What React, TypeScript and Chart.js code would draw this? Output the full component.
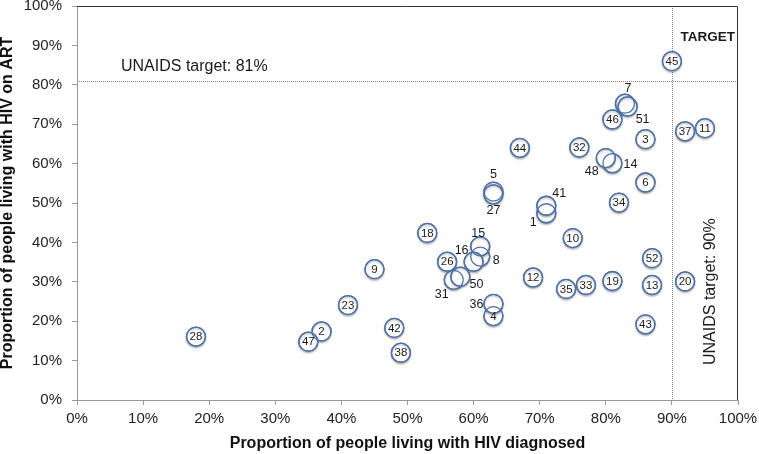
import React, { useEffect, useRef } from 'react';
import { Chart, registerables } from 'chart.js';

Chart.register(...registerables);

// ---- Data ----
const countryIds = [1, 2, 3, 4, 5, 6, 7, 8, 9, 10, 11, 12, 13, 14, 15, 16, 18, 19, 20, 23, 26, 27, 28, 31, 32, 33, 34, 35, 36, 37, 38, 41, 42, 43, 44, 45, 46, 47, 48, 50, 51, 52];
const diagnosedPct = [71, 37, 86, 63, 63, 86, 82.9, 61, 45, 75, 95, 69, 87, 81, 61, 60, 53, 81, 92, 41, 56, 63, 18, 57, 76, 77, 82, 74, 63, 92, 49, 71, 48, 86, 67, 90, 81, 35, 80, 58, 83.3, 87];
const onArtPct = [47.4, 17.4, 66.2, 21.3, 52.9, 55.2, 75.2, 36.4, 33.2, 41.1, 69, 31.1, 29.2, 60.1, 39, 35.1, 42.4, 30.2, 30.1, 24.1, 35.1, 52.2, 16.1, 30.5, 64.1, 29.2, 50.1, 28.2, 24.4, 68.2, 12, 49.3, 18.3, 19.2, 64, 86, 71.2, 14.8, 61.4, 31.3, 74.5, 36];
const axisTicks = [0, 10, 20, 30, 40, 50, 60, 70, 80, 90, 100];
const TARGET_ON_ART = 81;
const TARGET_DIAGNOSED = 90;

// label placement (style): pixel offsets for labels drawn outside crowded circles
const labelOffsets: Record<number, [number, number]> = {
  7: [3, -15], 51: [15, 13], 48: [-14, 13], 14: [18, 1],
  5: [0, -17], 27: [0, 16], 41: [13, -12], 1: [-13, 9],
  15: [-2, -13], 16: [-12, -11], 8: [16, 4], 31: [-12, 15],
  50: [16, 8], 36: [-17, 1],
};

const FONT = '"Liberation Sans", Arial, Helvetica, sans-serif';
const RADIUS = 9.5;
const CIRCLE_COLOR = '#4f72a6';

const overlayPlugin = {
  id: 'overlay',
  beforeDatasetsDraw(chart: any) {
    const { ctx, chartArea: a, scales } = chart;
    const x = scales.x, y = scales.y;
    ctx.save();
    ctx.strokeStyle = '#808080';
    ctx.lineWidth = 1;
    ctx.setLineDash([1, 1]);
    const yy = Math.round(y.getPixelForValue(TARGET_ON_ART)) + 0.5;
    ctx.beginPath(); ctx.moveTo(a.left, yy); ctx.lineTo(a.right, yy); ctx.stroke();
    const xx = Math.round(x.getPixelForValue(TARGET_DIAGNOSED)) + 0.5;
    ctx.beginPath(); ctx.moveTo(xx, a.top); ctx.lineTo(xx, a.bottom); ctx.stroke();
    ctx.setLineDash([]);
    ctx.strokeStyle = '#333';
    ctx.beginPath();
    ctx.moveTo(a.left, a.top + 0.5);
    ctx.lineTo(a.right - 0.5, a.top + 0.5);
    ctx.lineTo(a.right - 0.5, a.bottom);
    ctx.stroke();

    ctx.fillStyle = '#1a1a1a';
    ctx.font = '16px ' + FONT;
    ctx.textAlign = 'left';
    ctx.textBaseline = 'middle';
    ctx.fillText('UNAIDS target: ' + TARGET_ON_ART + '%', x.getPixelForValue(0) + 44, yy - 15);

    ctx.font = 'bold 13.5px ' + FONT;
    ctx.textAlign = 'right';
    ctx.fillText('TARGET', a.right - 3, a.top + 31);

    ctx.save();
    ctx.translate(xx + 38, y.getPixelForValue(27.5));
    ctx.rotate(-Math.PI / 2);
    ctx.font = '16px ' + FONT;
    ctx.textAlign = 'center';
    ctx.fillText('UNAIDS target: ' + TARGET_DIAGNOSED + '%', 0, 0);
    ctx.restore();
    ctx.restore();
  },
  beforeDatasetDraw(chart: any) {
    const ctx = chart.ctx;
    ctx.save();
    ctx.shadowColor = 'rgba(0,0,0,0.28)';
    ctx.shadowBlur = 2;
    ctx.shadowOffsetX = 0;
    ctx.shadowOffsetY = 1.5;
  },
  afterDatasetDraw(chart: any) {
    chart.ctx.restore();
  },
  afterDatasetsDraw(chart: any) {
    const { ctx } = chart;
    const meta = chart.getDatasetMeta(0);
    ctx.save();
    // re-stroke outlines so overlapping circles all show
    ctx.strokeStyle = CIRCLE_COLOR;
    ctx.lineWidth = 1.3;
    meta.data.forEach((pt: any) => {
      ctx.beginPath();
      ctx.arc(pt.x, pt.y, RADIUS, 0, Math.PI * 2);
      ctx.stroke();
    });
    ctx.fillStyle = '#1a1a1a';
    ctx.textAlign = 'center';
    ctx.textBaseline = 'middle';
    meta.data.forEach((pt: any, i: number) => {
      const id = countryIds[i];
      const off = labelOffsets[id];
      if (off) {
        ctx.font = '12.5px ' + FONT;
        ctx.fillText(String(id), pt.x + off[0], pt.y + off[1]);
      } else {
        ctx.font = '11.5px ' + FONT;
        ctx.fillText(String(id), pt.x, pt.y + 0.5);
      }
    });
    ctx.restore();
  },
};

export default function App() {
  const ref = useRef<HTMLCanvasElement | null>(null);
  useEffect(() => {
    document.body.style.margin = '0';
    const canvas = ref.current;
    if (!canvas) return;
    const points = countryIds.map((_, i) => ({ x: diagnosedPct[i], y: onArtPct[i] }));
    const tickBase = {
      autoSkip: false,
      maxRotation: 0,
      color: '#222',
      callback: (v: any) => v + '%',
    };
    const chart = new Chart(canvas, {
      type: 'scatter',
      data: {
        datasets: [{
          data: points,
          pointRadius: RADIUS,
          pointHoverRadius: RADIUS,
          pointBackgroundColor: '#ffffff',
          pointBorderColor: CIRCLE_COLOR,
          pointBorderWidth: 1.3,
        }],
      },
      options: {
        responsive: false,
        animation: false,
        devicePixelRatio: 1,
        layout: { autoPadding: false, padding: { top: 6, right: 21, left: 0, bottom: 0 } },
        plugins: { legend: { display: false }, tooltip: { enabled: false } },
        scales: {
          x: {
            type: 'linear',
            min: 0, max: 100,
            afterBuildTicks: (s: any) => { s.ticks = axisTicks.map((v) => ({ value: v })); },
            afterFit: (s: any) => { s.height = 54; s.paddingLeft = 0; s.paddingRight = 0; },
            ticks: { ...tickBase, padding: 5, font: { family: FONT, size: 15 } },
            grid: { drawOnChartArea: false, drawTicks: true, tickLength: 5, color: '#999' },
            border: { color: '#999', width: 1 },
            title: {
              display: true,
              text: 'Proportion of people living with HIV diagnosed',
              color: '#111',
              font: { family: FONT, size: 16, weight: 'bold', lineHeight: 1 },
              padding: { top: 0, bottom: 2 },
            },
          },
          y: {
            type: 'linear',
            min: 0, max: 100,
            afterBuildTicks: (s: any) => { s.ticks = axisTicks.map((v) => ({ value: v })); },
            afterFit: (s: any) => { s.width = 77; s.paddingTop = 0; s.paddingBottom = 0; },
            ticks: { ...tickBase, padding: 10, font: { family: FONT, size: 15, lineHeight: 0.2 } },
            grid: { drawOnChartArea: false, drawTicks: true, tickLength: 5, color: '#999' },
            border: { color: '#999', width: 1 },
            title: {
              display: true,
              text: 'Proportion of people living with HIV on ART',
              color: '#111',
              font: { family: FONT, size: 16, weight: 'bold', lineHeight: 1 },
              padding: { top: 0, bottom: 0 },
            },
          },
        },
      } as any,
      plugins: [overlayPlugin],
    });
    return () => chart.destroy();
  }, []);
  return (
    <div style={{ width: 759, height: 454 }}>
      <canvas ref={ref} width={759} height={454} />
    </div>
  );
}
